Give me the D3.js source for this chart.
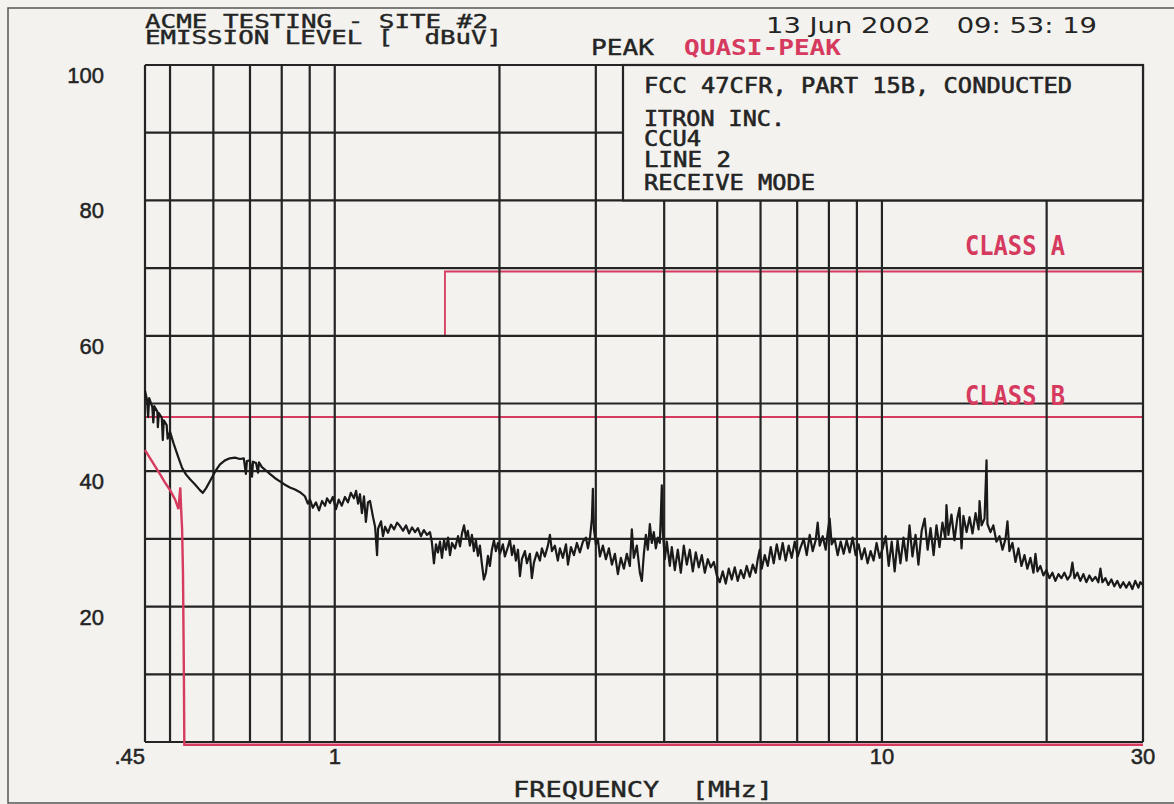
<!DOCTYPE html>
<html>
<head>
<meta charset="utf-8">
<script src="https://cdn.jsdelivr.net/npm/d3@7"></script>
<style>
  html, body { margin: 0; padding: 0; background: #f3f2ee; }
  svg { display: block; }
  text { white-space: pre; }
  .plot-font { font-family: "DejaVu Sans Mono", monospace; }
  .num-font { font-family: "Liberation Sans", Arial, sans-serif; }
</style>
</head>
<body>
<svg id="chart"></svg>
<script>
const W = 1174;
const H = 804;

// ---- data ----
const yTicks = [20, 40, 60, 80, 100];
const yGrid = [0, 10, 20, 30, 40, 50, 60, 70, 80, 90, 100];
const xTicks = [0.45, 1, 10, 30];
const xTickLabels = [".45", "1", "10", "30"];
const xGrid = [0.45, 0.5, 0.6, 0.7, 0.8, 0.9, 1, 2, 3, 4, 5, 6, 7, 8, 9, 10, 20, 30];

const legendLines = ["FCC 47CFR, PART 15B, CONDUCTED", "ITRON INC.", "CCU4", "LINE 2", "RECEIVE MODE"];

// limit lines (MHz, dBuV)
const classA = [[0.45, 60], [1.59, 60], [1.59, 69.5], [30, 69.5]];
const classB = [[0.45, 48], [30, 48]];

// quasi-peak trace
const qpTrace = [
  [0.450, 43.1], [0.459, 42.0], [0.469, 40.8], [0.479, 39.6], [0.489, 38.4], [0.500, 37.2],
  [0.511, 35.8], [0.518, 34.4], [0.520, 36.0], [0.522, 37.6], [0.524, 34.2], [0.526, 31.5],
  [0.528, 25.0], [0.530, 10.0], [0.531, -0.4], [30, -0.4]
];

// peak trace
const peakTrace = [
  [0.450, 51.9], [0.454, 50.5], [0.456, 48.0], [0.458, 50.8], [0.464, 49.5], [0.466, 47.2],
  [0.468, 49.6], [0.474, 48.8], [0.475, 46.5], [0.477, 48.6], [0.483, 47.9], [0.485, 44.6],
  [0.487, 47.5], [0.493, 46.8], [0.495, 44.8], [0.500, 45.8], [0.508, 44.0], [0.518, 42.0],
  [0.526, 40.5], [0.535, 39.5], [0.544, 38.8], [0.556, 38.0], [0.567, 37.2], [0.574, 36.8],
  [0.582, 37.5], [0.592, 38.6], [0.605, 40.0], [0.617, 41.0], [0.630, 41.6], [0.643, 41.9],
  [0.657, 42.0], [0.671, 41.8], [0.682, 41.9], [0.688, 39.6], [0.691, 41.5], [0.700, 41.6],
  [0.706, 39.2], [0.709, 41.4], [0.718, 41.2], [0.724, 39.8], [0.727, 41.3], [0.736, 40.6],
  [0.749, 40.1], [0.761, 39.6], [0.777, 39.0], [0.794, 38.5], [0.811, 38.0], [0.828, 37.6],
  [0.846, 37.3], [0.864, 36.9], [0.882, 36.3], [0.893, 35.2], [0.901, 35.8], [0.912, 34.6],
  [0.924, 35.4], [0.936, 34.2], [0.948, 35.6], [0.960, 34.9], [0.968, 36.0], [0.980, 35.3],
  [0.992, 36.2], [1.005, 34.4], [1.017, 35.8], [1.030, 34.9], [1.044, 36.2], [1.057, 35.4],
  [1.070, 36.8], [1.084, 36.0], [1.094, 37.1], [1.103, 35.2], [1.112, 36.6], [1.121, 33.8],
  [1.131, 36.3], [1.140, 32.5], [1.150, 35.4], [1.160, 35.6], [1.175, 33.2], [1.185, 31.8],
  [1.195, 27.6], [1.200, 31.5], [1.215, 32.6], [1.225, 30.4], [1.236, 31.8], [1.251, 30.9],
  [1.267, 32.1], [1.284, 31.4], [1.300, 32.4], [1.316, 31.9], [1.333, 31.2], [1.350, 32.0],
  [1.367, 30.8], [1.384, 31.7], [1.402, 31.0], [1.419, 31.6], [1.437, 30.4], [1.455, 31.3],
  [1.474, 30.6], [1.493, 31.0], [1.505, 29.5], [1.518, 26.4], [1.531, 29.2], [1.544, 28.0],
  [1.557, 29.6], [1.570, 27.2], [1.584, 29.8], [1.597, 28.4], [1.611, 30.2], [1.624, 27.6],
  [1.638, 29.4], [1.659, 28.6], [1.680, 30.4], [1.694, 28.9], [1.708, 30.8], [1.723, 32.0],
  [1.737, 30.2], [1.751, 31.2], [1.766, 29.0], [1.781, 30.6], [1.796, 28.2], [1.811, 29.8],
  [1.827, 27.5], [1.842, 29.0], [1.858, 26.2], [1.873, 24.0], [1.889, 25.0], [1.905, 27.5],
  [1.921, 26.0], [1.937, 28.4], [1.954, 29.8], [1.970, 28.2], [1.987, 29.4], [2.004, 27.8],
  [2.029, 29.2], [2.046, 27.4], [2.072, 28.8], [2.090, 29.9], [2.108, 27.6], [2.125, 29.0],
  [2.143, 26.8], [2.162, 28.4], [2.180, 24.5], [2.198, 27.0], [2.226, 28.2], [2.245, 26.4],
  [2.273, 27.8], [2.292, 24.2], [2.312, 26.5], [2.341, 28.0], [2.371, 26.8], [2.391, 28.6],
  [2.421, 27.4], [2.452, 29.0], [2.473, 30.6], [2.494, 28.2], [2.525, 29.0], [2.557, 26.8],
  [2.579, 28.6], [2.612, 27.2], [2.646, 29.2], [2.668, 26.2], [2.702, 28.8], [2.736, 27.6],
  [2.770, 29.4], [2.805, 28.0], [2.841, 29.6], [2.878, 30.2], [2.902, 28.6], [2.926, 30.0],
  [2.951, 33.0], [2.963, 37.4], [2.976, 31.5], [3.001, 29.2], [3.026, 30.0], [3.052, 27.4],
  [3.091, 29.0], [3.130, 27.0], [3.170, 28.6], [3.210, 26.2], [3.251, 27.8], [3.292, 24.8],
  [3.333, 27.2], [3.376, 25.6], [3.418, 27.8], [3.462, 26.0], [3.491, 31.4], [3.520, 27.2],
  [3.565, 29.0], [3.611, 25.0], [3.641, 23.8], [3.672, 27.8], [3.703, 30.6], [3.734, 28.4],
  [3.766, 32.2], [3.797, 29.4], [3.829, 31.0], [3.862, 28.6], [3.894, 30.2], [3.927, 29.4],
  [3.944, 33.5], [3.960, 37.9], [3.977, 31.0], [4.011, 27.0], [4.044, 29.6], [4.096, 26.0],
  [4.130, 28.8], [4.183, 25.4], [4.236, 28.4], [4.290, 25.0], [4.344, 29.0], [4.400, 26.2],
  [4.455, 28.4], [4.512, 25.2], [4.569, 28.0], [4.627, 25.8], [4.686, 27.6], [4.746, 25.0],
  [4.806, 27.0], [4.867, 25.8], [4.929, 26.6], [4.992, 24.6], [5.054, 23.6], [5.118, 25.2],
  [5.183, 23.4], [5.249, 25.6], [5.315, 24.0], [5.383, 25.8], [5.450, 23.8], [5.521, 25.4],
  [5.591, 24.2], [5.661, 26.0], [5.734, 24.4], [5.807, 26.2], [5.880, 25.0], [5.930, 27.0],
  [5.980, 28.4], [6.030, 25.6], [6.107, 27.6], [6.185, 26.0], [6.263, 28.8], [6.342, 26.4],
  [6.423, 29.2], [6.504, 27.0], [6.586, 29.4], [6.669, 26.8], [6.755, 29.0], [6.841, 27.2],
  [6.928, 29.6], [7.016, 27.4], [7.105, 28.8], [7.195, 30.0], [7.287, 27.6], [7.379, 30.6],
  [7.472, 28.2], [7.567, 29.8], [7.631, 32.4], [7.696, 29.0], [7.794, 30.4], [7.893, 28.4],
  [7.960, 31.0], [8.026, 33.0], [8.094, 29.2], [8.196, 30.0], [8.300, 27.6], [8.406, 29.6],
  [8.512, 27.8], [8.620, 29.8], [8.730, 28.0], [8.840, 30.2], [8.952, 27.6], [9.066, 29.2],
  [9.180, 27.0], [9.297, 28.6], [9.415, 26.4], [9.535, 28.2], [9.656, 26.8], [9.778, 29.4],
  [9.904, 27.2], [10.03, 28.6], [10.16, 30.4], [10.29, 26.0], [10.42, 29.6], [10.55, 25.2],
  [10.68, 29.8], [10.81, 26.4], [10.95, 30.2], [11.09, 26.8], [11.23, 32.0], [11.37, 27.4],
  [11.52, 30.6], [11.66, 26.2], [11.82, 31.2], [11.97, 33.0], [12.12, 28.4], [12.27, 31.6],
  [12.43, 27.6], [12.58, 32.0], [12.74, 28.8], [12.90, 32.4], [13.06, 30.0], [13.12, 35.0],
  [13.23, 30.6], [13.40, 33.6], [13.57, 29.8], [13.73, 33.0], [13.86, 34.6], [13.98, 28.6],
  [14.09, 33.4], [14.28, 31.0], [14.46, 33.2], [14.64, 30.8], [14.83, 33.8], [15.02, 31.4],
  [15.08, 35.6], [15.21, 32.0], [15.40, 33.0], [15.53, 41.6], [15.59, 32.2], [15.79, 31.0],
  [15.98, 32.0], [16.19, 29.6], [16.40, 30.4], [16.61, 28.4], [16.82, 30.0], [16.96, 32.6],
  [17.10, 28.2], [17.32, 29.4], [17.54, 26.6], [17.76, 28.6], [17.99, 26.0], [18.22, 27.6],
  [18.44, 25.6], [18.68, 27.2], [18.92, 25.0], [19.08, 27.8], [19.24, 25.2], [19.48, 26.0],
  [19.73, 24.6], [19.98, 25.4], [20.23, 24.2], [20.49, 25.0], [20.75, 23.8], [21.02, 24.8],
  [21.28, 24.2], [21.55, 25.0], [21.83, 24.0], [22.10, 24.6], [22.29, 26.5], [22.48, 24.2],
  [22.76, 25.0], [23.05, 23.8], [23.34, 24.8], [23.64, 23.6], [23.94, 24.6], [24.24, 23.8],
  [24.55, 24.4], [24.86, 23.6], [25.08, 25.6], [25.29, 23.6], [25.61, 24.2], [25.93, 23.2],
  [26.26, 24.0], [26.59, 23.0], [26.93, 23.8], [27.26, 22.8], [27.61, 23.6], [27.96, 22.8],
  [28.32, 23.6], [28.68, 22.6], [29.04, 23.8], [29.42, 22.8], [29.66, 23.6], [30.0, 23.2]
];

// ---- layout ----
const INK = "#242424";
const RED = "#d63a5e";
const BG = "#f3f2ee";
const plot = { left: 145, right: 1143, top: 65, bottom: 742 };

const svg = d3.select("#chart").attr("width", W).attr("height", H)
  .attr("viewBox", `0 0 ${W} ${H}`);

svg.append("rect").attr("width", W).attr("height", H).attr("fill", BG);

// page border (right side runs off the sheet)
svg.append("path")
  .attr("d", `M${W + 5},8 H8 V803 H${W + 5}`)
  .attr("fill", "none").attr("stroke", "#555").attr("stroke-width", 1.5);

const x = d3.scaleLog().domain([0.45, 30]).range([plot.left, plot.right]);
const y = d3.scaleLinear().domain([0, 100]).range([plot.bottom, plot.top]);

const line = d3.line().x(d => x(d[0])).y(d => y(d[1]));

// limit lines drawn first, the grid covers them where they meet
svg.append("path").datum(classA).attr("d", line)
  .attr("fill", "none").attr("stroke", RED).attr("stroke-width", 1.8);
svg.append("path").datum(classB).attr("d", line)
  .attr("fill", "none").attr("stroke", RED).attr("stroke-width", 2);

// grid
const grid = svg.append("g").attr("stroke", INK).attr("stroke-width", 2.2);
grid.selectAll(".vg").data(xGrid).enter().append("line")
  .attr("x1", d => x(d)).attr("x2", d => x(d))
  .attr("y1", y(100)).attr("y2", y(0));
grid.selectAll(".hg").data(yGrid).enter().append("line")
  .attr("x1", x(0.45)).attr("x2", x(30))
  .attr("y1", d => y(d)).attr("y2", d => y(d));

// legend box over the grid, top right
const boxLeft = 623;
svg.append("rect")
  .attr("x", boxLeft).attr("y", y(100))
  .attr("width", x(30) - boxLeft).attr("height", y(80) - y(100))
  .attr("fill", BG).attr("stroke", INK).attr("stroke-width", 2.2);

const legendY = [93, 126, 146, 167, 190];
const legendLen = [428, 141, 57, 87, 171];
svg.selectAll(".leg").data(legendLines).enter().append("text")
  .attr("class", "plot-font")
  .attr("x", 644).attr("y", (d, i) => legendY[i])
  .attr("font-size", 22)
  .attr("textLength", (d, i) => legendLen[i]).attr("lengthAdjust", "spacingAndGlyphs")
  .attr("fill", INK).attr("stroke", INK).attr("stroke-width", 0.6)
  .text(d => d);

// traces
svg.append("path").datum(peakTrace).attr("d", line)
  .attr("fill", "none").attr("stroke", "#1a1a1a").attr("stroke-width", 2.2)
  .attr("stroke-linejoin", "round");
svg.append("path").datum(qpTrace).attr("d", line)
  .attr("fill", "none").attr("stroke", RED).attr("stroke-width", 2.4);

// y labels
svg.selectAll(".ylab").data(yTicks).enter().append("text")
  .attr("class", "num-font")
  .attr("x", 104).attr("y", d => y(d) + 18)
  .attr("text-anchor", "end").attr("font-size", 22)
  .attr("fill", INK).attr("stroke", INK).attr("stroke-width", 0.5)
  .text(d => d);

// x labels
svg.selectAll(".xlab").data(xTicks).enter().append("text")
  .attr("class", "num-font")
  .attr("x", d => x(d)).attr("y", 764)
  .attr("text-anchor", (d, i) => i === 0 ? "end" : "middle")
  .attr("font-size", 22)
  .attr("fill", INK).attr("stroke", INK).attr("stroke-width", 0.5)
  .text((d, i) => xTickLabels[i]);

// header texts
function plotText(str, px, py, len, size, color) {
  return svg.append("text").attr("class", "plot-font")
    .attr("x", px).attr("y", py).attr("font-size", size)
    .attr("textLength", len).attr("lengthAdjust", "spacingAndGlyphs")
    .attr("fill", color).attr("stroke", color).attr("stroke-width", 0.4)
    .text(str);
}
plotText("ACME TESTING - SITE #2", 145, 28, 343, 19, INK);
plotText("EMISSION LEVEL [  dBuV]", 145, 44, 357, 19, INK);
plotText("PEAK", 591, 55, 63, 21, INK);
plotText("QUASI-PEAK", 684, 55, 157, 21, RED).attr("font-weight", "bold").attr("stroke-width", 0);
plotText("FREQUENCY  [MHz]", 513, 797, 260, 21, INK);
plotText("CLASS A", 965, 255, 100, 26, RED).attr("font-weight", "bold").attr("stroke-width", 0);
plotText("CLASS B", 965, 405, 100, 26, RED).attr("font-weight", "bold").attr("stroke-width", 0);

svg.append("text")
  .attr("x", 766).attr("y", 33).attr("font-size", 22)
  .attr("font-family", "DejaVu Sans, sans-serif")
  .attr("textLength", 331).attr("lengthAdjust", "spacingAndGlyphs")
  .attr("fill", INK)
  .text("13 Jun 2002   09: 53: 19");
</script>
</body>
</html>
